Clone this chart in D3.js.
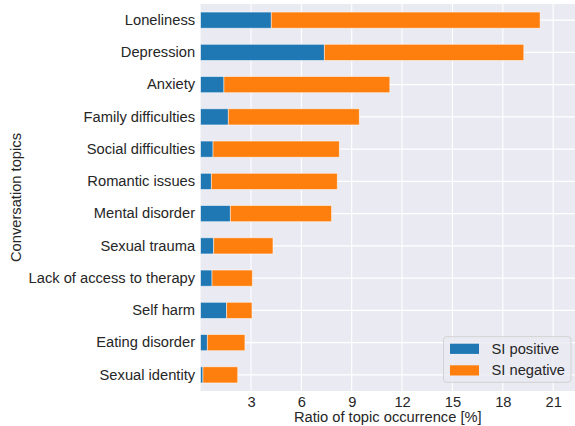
<!DOCTYPE html>
<html>
<head>
<meta charset="utf-8">
<script src="https://cdn.jsdelivr.net/npm/d3@7"></script>
<style>
  body { margin: 0; background: #fff; }
  text { font-family: "Liberation Sans", Arial, sans-serif; fill: #262626; }
</style>
</head>
<body>
<div id="chart"></div>
<script>
// Topics, top to bottom
const topics = [
  'Loneliness', 'Depression', 'Anxiety', 'Family difficulties',
  'Social difficulties', 'Romantic issues', 'Mental disorder', 'Sexual trauma',
  'Lack of access to therapy', 'Self harm', 'Eating disorder', 'Sexual identity'
];
// Ratio of occurrence [%]
const siPositive = [4.21, 7.37, 1.39, 1.65, 0.74, 0.64, 1.77, 0.78, 0.68, 1.55, 0.40, 0.14];
const siNegative = [16.01, 11.88, 9.88, 7.80, 7.52, 7.50, 6.03, 3.53, 2.40, 1.51, 2.24, 2.07];
const xTicks = [3, 6, 9, 12, 15, 18, 21];
const seriesNames = ['SI positive', 'SI negative'];
const colors = ['#1f77b4', '#ff7f0e'];

const width = 575;
const height = 426;
const margin = { top: 4, right: 0, bottom: 35, left: 200.6 };
const innerWidth = width - margin.left - margin.right;
const innerHeight = height - margin.top - margin.bottom;
const fontSize = 14.7;

const svg = d3.select('#chart')
  .append('svg')
  .attr('width', width)
  .attr('height', height);

const g = svg.append('g')
  .attr('transform', `translate(${margin.left},${margin.top})`);

const x = d3.scaleLinear()
  .domain([0, 22.3])
  .range([0, innerWidth]);

// one unit per topic, bars are half a unit thick
const y = d3.scaleBand()
  .domain(topics)
  .range([0, innerHeight])
  .paddingInner(0.5)
  .paddingOuter(0.25);

// background
g.append('rect')
  .attr('width', innerWidth)
  .attr('height', innerHeight)
  .attr('fill', '#eaeaf2');

// grid
g.selectAll('.vgrid')
  .data(xTicks)
  .enter()
  .append('line')
  .attr('x1', d => x(d))
  .attr('x2', d => x(d))
  .attr('y1', 0)
  .attr('y2', innerHeight)
  .attr('stroke', '#fff')
  .attr('stroke-width', 1.1);

g.selectAll('.hgrid')
  .data(topics)
  .enter()
  .append('line')
  .attr('x1', 0)
  .attr('x2', innerWidth)
  .attr('y1', d => y(d) + y.bandwidth() / 2)
  .attr('y2', d => y(d) + y.bandwidth() / 2)
  .attr('stroke', '#fff')
  .attr('stroke-width', 1.1);

// stacked bars
const rows = topics.map((t, i) => ({ topic: t, pos: siPositive[i], neg: siNegative[i] }));
const stack = d3.stack().keys(['pos', 'neg'])(rows);

g.selectAll('.series')
  .data(stack)
  .enter()
  .append('g')
  .attr('fill', (d, i) => colors[i])
  .selectAll('rect')
  .data(d => d)
  .enter()
  .append('rect')
  .attr('x', d => x(d[0]))
  .attr('y', d => y(d.data.topic))
  .attr('width', d => x(d[1]) - x(d[0]))
  .attr('height', y.bandwidth())
  .attr('stroke', '#fff')
  .attr('stroke-opacity', 0.6)
  .attr('stroke-width', 0.8);

// x axis
const xAxis = d3.axisBottom(x).tickValues(xTicks).tickSize(0).tickPadding(5.5);
const xg = g.append('g')
  .attr('transform', `translate(0,${innerHeight})`)
  .call(xAxis);
xg.select('.domain').remove();
xg.selectAll('text').attr('font-size', fontSize).attr('fill', '#262626');

// y axis
const yAxis = d3.axisLeft(y).tickSize(0).tickPadding(5.5);
const yg = g.append('g').call(yAxis);
yg.select('.domain').remove();
yg.selectAll('text').attr('font-size', fontSize).attr('fill', '#262626');

// axis titles
svg.append('text')
  .attr('x', margin.left + innerWidth / 2)
  .attr('y', 421.5)
  .attr('text-anchor', 'middle')
  .attr('font-size', fontSize)
  .text('Ratio of topic occurrence [%]');

svg.append('text')
  .attr('transform', `translate(21,${margin.top + innerHeight / 2}) rotate(-90)`)
  .attr('text-anchor', 'middle')
  .attr('font-size', fontSize)
  .text('Conversation topics');

// legend
const legend = svg.append('g').attr('transform', 'translate(443.5,336.7)');
legend.append('rect')
  .attr('width', 127.5)
  .attr('height', 45.6)
  .attr('rx', 3)
  .attr('fill', '#eaeaf2')
  .attr('fill-opacity', 0.8)
  .attr('stroke', '#cccccc')
  .attr('stroke-width', 0.8);

seriesNames.forEach((name, i) => {
  legend.append('rect')
    .attr('x', 6.5)
    .attr('y', 7 + i * 21.6)
    .attr('width', 29)
    .attr('height', 10.2)
    .attr('fill', colors[i]);
  legend.append('text')
    .attr('x', 48)
    .attr('y', 17 + i * 21.6)
    .attr('font-size', fontSize)
    .text(name);
});
</script>
</body>
</html>
